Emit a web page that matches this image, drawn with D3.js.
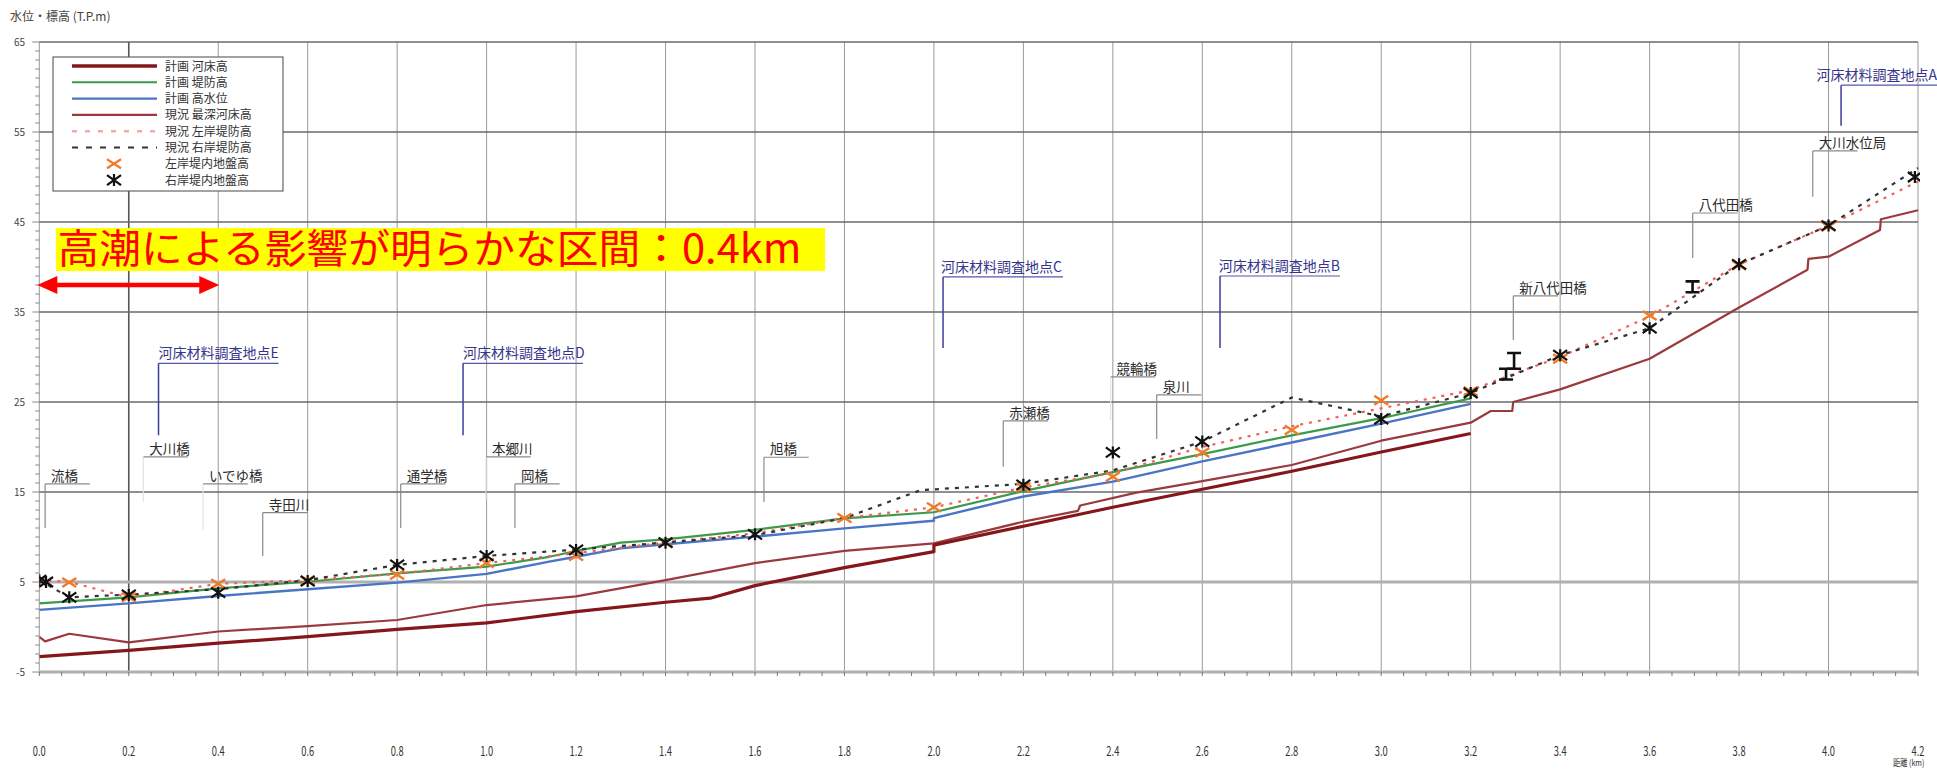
<!DOCTYPE html>
<html><head><meta charset="utf-8">
<script src="https://cdn.jsdelivr.net/npm/d3@7"></script>
<style>
html,body{margin:0;padding:0;background:#fff;}
svg{display:block;}
text{font-family:"Noto Sans CJK JP","Noto Sans",sans-serif;}
</style></head><body>
<svg id="chart" width="1937" height="770"></svg>
<script>
// ---- longitudinal profile data: [distance km, elevation T.P.m] ----
const planBed = [[0,-3.3],[0.2,-2.6],[0.4,-1.8],[0.6,-1.07],[0.8,-0.26],[1.0,0.45],[1.2,1.7],[1.4,2.75],[1.5,3.2],[1.6,4.6],[1.8,6.6],[2.0,8.37],[2.0,9.1],[2.2,11.2],[2.4,13.3],[2.6,15.3],[2.8,17.3],[3.0,19.45],[3.2,21.5]];
const planLevee = [[0,2.63],[0.2,3.3],[0.4,4.3],[0.6,5.03],[0.8,5.96],[1.0,6.7],[1.14,7.8],[1.2,8.45],[1.3,9.37],[1.4,9.74],[1.6,10.8],[1.8,12.07],[2.0,12.75],[2.2,15.1],[2.4,17.2],[2.6,19.2],[2.8,21.3],[3.0,23.2],[3.2,25.4]];
const planHWL = [[0,1.9],[0.2,2.63],[0.4,3.44],[0.6,4.2],[0.8,4.93],[1.0,5.9],[1.14,7.26],[1.2,7.8],[1.3,8.74],[1.4,9.2],[1.6,10.04],[1.8,10.96],[2.0,11.8],[2.0,12.1],[2.2,14.5],[2.4,16.15],[2.6,18.4],[2.8,20.5],[3.0,22.6],[3.2,24.8]];
const deepestBed = [[0,-1.1],[0.013,-1.6],[0.067,-0.75],[0.2,-1.7],[0.4,-0.5],[0.6,0.1],[0.8,0.78],[1.0,2.44],[1.2,3.4],[1.4,5.2],[1.6,7.1],[1.8,8.45],[2.0,9.3],[2.2,11.7],[2.322,12.9],[2.327,13.5],[2.45,14.9],[2.6,16.2],[2.8,18.0],[3.0,20.7],[3.2,22.7],[3.245,24.0],[3.293,24.0],[3.295,25.0],[3.4,26.4],[3.6,29.8],[3.8,35.5],[3.953,39.7],[3.955,40.9],[4.0,41.15],[4.115,44.1],[4.117,45.3],[4.2,46.3]];
const leftLevee = [[0,5.2],[0.067,5.0],[0.2,3.3],[0.4,4.8],[0.6,5.2],[0.8,5.9],[1.0,7.1],[1.2,8.2],[1.4,9.4],[1.6,10.4],[1.8,12.1],[2.0,13.3],[2.2,15.5],[2.4,17.1],[2.6,20.0],[2.8,22.3],[3.0,24.3],[3.2,26.3],[3.3,28.2],[3.4,30.0],[3.6,34.5],[3.8,40.3],[4.0,44.6],[4.2,49.5]];
const rightLevee = [[0,5.2],[0.067,3.3],[0.2,3.6],[0.4,4.2],[0.6,5.2],[0.8,6.9],[1.0,7.9],[1.2,8.6],[1.4,9.4],[1.6,10.2],[1.8,12.1],[1.97,15.2],[2.2,15.9],[2.4,17.4],[2.6,20.6],[2.8,25.5],[3.0,23.4],[3.2,26.0],[3.4,30.2],[3.6,33.2],[3.8,40.3],[4.0,44.6],[4.2,51.0]];
const leftGround = [[0,5.15],[0.067,4.95],[0.2,3.3],[0.4,4.8],[0.6,5.2],[0.8,5.8],[1.0,7.1],[1.2,7.9],[1.4,9.4],[1.8,12.1],[2.0,13.3],[2.2,15.5],[2.4,16.7],[2.6,19.4],[2.8,21.9],[3.0,25.2],[3.2,26.2],[3.4,29.8],[3.6,34.6],[3.8,40.2],[4.0,44.5]];
const rightGround = [[0,5.2],[0.015,5.0],[0.067,3.3],[0.2,3.56],[0.4,3.81],[0.6,5.1],[0.8,6.9],[1.0,7.9],[1.2,8.56],[1.4,9.37],[1.6,10.3],[2.2,15.8],[2.4,19.4],[2.6,20.6],[3.0,23.1],[3.2,26.0],[3.4,30.2],[3.6,33.2],[3.8,40.3],[4.0,44.6],[4.193,50.0]];
// bridge girder symbols: [km, bottom, top]
const girders = [[3.297,28.7,30.45],[3.279,27.5,28.7],[3.696,37.2,38.4]];

// ---- axis ticks ----
const xTickLabels = ["0.0","0.2","0.4","0.6","0.8","1.0","1.2","1.4","1.6","1.8","2.0","2.2","2.4","2.6","2.8","3.0","3.2","3.4","3.6","3.8","4.0","4.2"];
const yTickValues = [65,55,45,35,25,15,5,-5];

// ---- landmarks along the river: leader at km, label line elevation, leader foot elevation ----
const landmarks = [
  {name:"流橋", km:0.013, line:15.9, foot:11.0},
  {name:"大川橋", km:0.2325, line:18.9, foot:13.9, faint:true},
  {name:"いでゆ橋", km:0.366, line:15.9, foot:10.8, faint:true},
  {name:"寺田川", km:0.4995, line:12.7, foot:7.9},
  {name:"通学橋", km:0.808, line:15.9, foot:11.0},
  {name:"本郷川", km:0.9987, line:18.9, foot:14.1, faint:true},
  {name:"岡橋", km:1.0633, line:15.9, foot:11.0},
  {name:"旭橋", km:1.620, line:18.86, foot:13.9},
  {name:"赤瀬橋", km:2.155, line:22.9, foot:17.8},
  {name:"競輪橋", km:2.395, line:27.8, foot:23.0, faint:true},
  {name:"泉川", km:2.498, line:25.8, foot:20.9},
  {name:"新八代田橋", km:3.2953, line:36.8, foot:31.9},
  {name:"八代田橋", km:3.6964, line:46.0, foot:41.0},
  {name:"大川水位局", km:3.9647, line:52.9, foot:47.8}
];
const samplingPoints = [
  {name:"河床材料調査地点E", km:0.2665, textKm:0.2665, line:29.3, foot:21.3},
  {name:"河床材料調査地点D", km:0.9473, textKm:0.9473, line:29.3, foot:21.3},
  {name:"河床材料調査地点C", km:2.0204, textKm:2.016, line:38.9, foot:31.0},
  {name:"河床材料調査地点B", km:2.6396, textKm:2.637, line:39.0, foot:31.0},
  {name:"河床材料調査地点A", km:4.028, textKm:3.973, line:60.2, foot:55.7}
];
const legendLabels = ["計画 河床高","計画 堤防高","計画 高水位","現況 最深河床高","現況 左岸堤防高","現況 右岸堤防高","左岸堤内地盤高","右岸堤内地盤高"];
const tideNote = "高潮による影響が明らかな区間：0.4km";
const tideRange = [0, 0.4];
const tideArrowLevel = 38.0;

// ---- drawing ----
const W = 1937, H = 770;
const svg = d3.select("#chart");
svg.append("rect").attr("width", W).attr("height", H).attr("fill", "#fff");

const x = d3.scaleLinear().domain([0, 4.2]).range([39.3, 1918]);
const y = d3.scaleLinear().domain([-5, 65]).range([672, 42]);
const kmPerPx = 4.2 / (1918 - 39.3);

// grid
const grid = svg.append("g");
xTickLabels.forEach(t => {
  const v = +t;
  grid.append("line").attr("x1", x(v)).attr("x2", x(v)).attr("y1", y(65)).attr("y2", y(-5))
    .attr("stroke", v === 0.2 ? "#555" : "#9a9a9a").attr("stroke-width", v === 0.2 ? 1.6 : 1);
});
yTickValues.forEach(v => {
  const heavy = (v === 5 || v === -5);
  grid.append("line").attr("x1", x(0)).attr("x2", x(4.2)).attr("y1", y(v)).attr("y2", y(v))
    .attr("stroke", heavy ? "#b0b0b0" : "#6a6a6a").attr("stroke-width", heavy ? 3.2 : 1.4);
});

// y axis ticks and labels
const yAxis = svg.append("g");
d3.range(-5, 65.1, 1).forEach(v => {
  const major = (v + 5) % 10 === 0;
  yAxis.append("line").attr("x1", x(0) - (major ? 7 : 4)).attr("x2", x(0)).attr("y1", y(v)).attr("y2", y(v))
    .attr("stroke", "#888").attr("stroke-width", 1);
});
yTickValues.forEach(v => {
  yAxis.append("text").attr("x", 25).attr("y", y(v) + 4).attr("text-anchor", "end")
    .attr("font-size", 10).attr("font-family", "Liberation Sans, Arial").attr("fill", "#444").text(v);
});
svg.append("text").attr("x", 10).attr("y", 21).attr("font-size", 12).attr("fill", "#444").text("水位・標高 (T.P.m)");

// x axis ticks and labels
const xAxis = svg.append("g");
d3.range(0, 4.2001, 0.05).forEach(v => {
  xAxis.append("line").attr("x1", x(v)).attr("x2", x(v)).attr("y1", y(-5)).attr("y2", y(-5) + 4)
    .attr("stroke", "#777").attr("stroke-width", 1);
});
xTickLabels.forEach(t => {
  xAxis.append("text").attr("transform", `translate(${x(+t)},756) scale(0.72,1)`).attr("text-anchor", "middle")
    .attr("font-size", 13).attr("font-family", "Liberation Sans, Arial").attr("fill", "#333").text(t);
});
svg.append("text").attr("transform", "translate(1893,766) scale(0.8,1)").attr("font-size", 9).attr("fill", "#333").text("距離 (km)");

// series
svg.append("defs").append("clipPath").attr("id", "plot").append("rect")
  .attr("x", x(0)).attr("y", y(65)).attr("width", x(4.2) - x(0) + 2).attr("height", y(-5) - y(65));
const plot = svg.append("g").attr("clip-path", "url(#plot)");
const line = d3.line().x(d => x(d[0])).y(d => y(d[1]));

const seriesStyle = [
  {data: deepestBed, color: "#9b3a3e", width: 2.2},
  {data: planBed, color: "#85161a", width: 3.2},
  {data: planHWL, color: "#4a74c4", width: 2.4},
  {data: planLevee, color: "#3c9a4a", width: 2.2},
  {data: leftLevee, color: "#f2605c", width: 2.2, dash: "3,6"},
  {data: rightLevee, color: "#333", width: 2.2, dash: "4,6"}
];
seriesStyle.forEach(s => {
  plot.append("path").attr("d", line(s.data)).attr("fill", "none")
    .attr("stroke", s.color).attr("stroke-width", s.width)
    .attr("stroke-dasharray", s.dash || null).attr("stroke-linejoin", "round");
});

const xMark = "M-7,-4.5L7,4.5M-7,4.5L7,-4.5";
const starMark = "M-7,-5L7,5M-7,5L7,-5M0,-6L0,6";
plot.selectAll(".lg").data(leftGround).join("path").attr("class", "lg")
  .attr("transform", d => `translate(${x(d[0])},${y(d[1])})`).attr("d", xMark)
  .attr("stroke", "#f07a28").attr("stroke-width", 2.4).attr("fill", "none");
plot.selectAll(".rg").data(rightGround).join("path").attr("class", "rg")
  .attr("transform", d => `translate(${x(d[0])},${y(d[1])})`).attr("d", starMark)
  .attr("stroke", "#111").attr("stroke-width", 2.2).attr("fill", "none");

// girder symbols
girders.forEach(g => {
  const cx = x(g[0]), y1 = y(g[2]), y2 = y(g[1]);
  const p = d3.path();
  p.moveTo(cx - 7, y1); p.lineTo(cx + 7, y1);
  p.moveTo(cx, y1); p.lineTo(cx, y2);
  p.moveTo(cx - 7, y2); p.lineTo(cx + 7, y2);
  svg.append("path").attr("d", p.toString()).attr("stroke", "#111").attr("stroke-width", 2.6).attr("fill", "none");
});

// landmark labels
const lm = svg.append("g");
landmarks.forEach(d => {
  const lx = x(d.km), ly = y(d.line);
  lm.append("line").attr("x1", lx).attr("x2", x(d.km + 0.1)).attr("y1", ly).attr("y2", ly)
    .attr("stroke", "#8a8a8a").attr("stroke-width", 1.2);
  lm.append("line").attr("x1", lx).attr("x2", lx).attr("y1", ly).attr("y2", y(d.foot))
    .attr("stroke", d.faint ? "#e2e2e2" : "#8a8a8a").attr("stroke-width", 1.2);
  lm.append("text").attr("x", lx + 6).attr("y", ly - 3).attr("font-size", 13.5)
    .attr("fill", "#2a2a2a").text(d.name);
});
samplingPoints.forEach(d => {
  const lx = x(d.km), ly = y(d.line);
  lm.append("line").attr("x1", lx).attr("x2", lx + 120).attr("y1", ly).attr("y2", ly)
    .attr("stroke", "#5656a8").attr("stroke-width", 1.2);
  lm.append("line").attr("x1", lx).attr("x2", lx).attr("y1", ly).attr("y2", y(d.foot))
    .attr("stroke", "#3c3c9c").attr("stroke-width", 1.5);
  lm.append("text").attr("x", x(d.textKm)).attr("y", ly - 5).attr("font-size", 14)
    .attr("fill", "#35358c").text(d.name);
});

// legend
const lg = svg.append("g");
lg.append("rect").attr("x", 53).attr("y", 57).attr("width", 230).attr("height", 134)
  .attr("fill", "#fff").attr("stroke", "#666").attr("stroke-width", 1.2);
const legendStyle = [
  {color: "#85161a", width: 3.4},
  {color: "#3c9a4a", width: 2},
  {color: "#4a74c4", width: 2.4},
  {color: "#9b3a3e", width: 2.2},
  {color: "#f7a8a8", width: 2.4, dash: "5,8"},
  {color: "#333", width: 2.2, dash: "6,8"},
  {mark: xMark, color: "#f07a28"},
  {mark: starMark, color: "#111"}
];
legendLabels.forEach((label, i) => {
  const ry = 66 + i * 16.3;
  const s = legendStyle[i];
  if (s.mark) {
    lg.append("path").attr("transform", `translate(114,${ry})`).attr("d", s.mark)
      .attr("stroke", s.color).attr("stroke-width", 2.2).attr("fill", "none");
  } else {
    lg.append("line").attr("x1", 72).attr("x2", 157).attr("y1", ry).attr("y2", ry)
      .attr("stroke", s.color).attr("stroke-width", s.width).attr("stroke-dasharray", s.dash || null);
  }
  lg.append("text").attr("x", 165).attr("y", ry + 4.5).attr("font-size", 12).attr("fill", "#333").text(label);
});

// storm surge annotation
const note = svg.append("g");
note.append("rect").attr("x", 56).attr("y", 228).attr("width", 769).attr("height", 43).attr("fill", "#ffff00");
note.append("text").attr("x", 57.5).attr("y", 263).attr("font-size", 40).attr("fill", "#ff0000")
  .attr("textLength", 744).attr("lengthAdjust", "spacingAndGlyphs").text(tideNote);
const ax0 = x(tideRange[0]) - 2, ax1 = x(tideRange[1]) + 1, ay = y(tideArrowLevel);
note.append("line").attr("x1", ax0 + 16).attr("x2", ax1 - 16).attr("y1", ay).attr("y2", ay)
  .attr("stroke", "#ff0000").attr("stroke-width", 4.5);
note.append("path").attr("d", `M${ax0},${ay}L${ax0 + 20},${ay - 9}L${ax0 + 20},${ay + 9}Z`).attr("fill", "#ff0000");
note.append("path").attr("d", `M${ax1},${ay}L${ax1 - 20},${ay - 9}L${ax1 - 20},${ay + 9}Z`).attr("fill", "#ff0000");
</script>
</body></html>
